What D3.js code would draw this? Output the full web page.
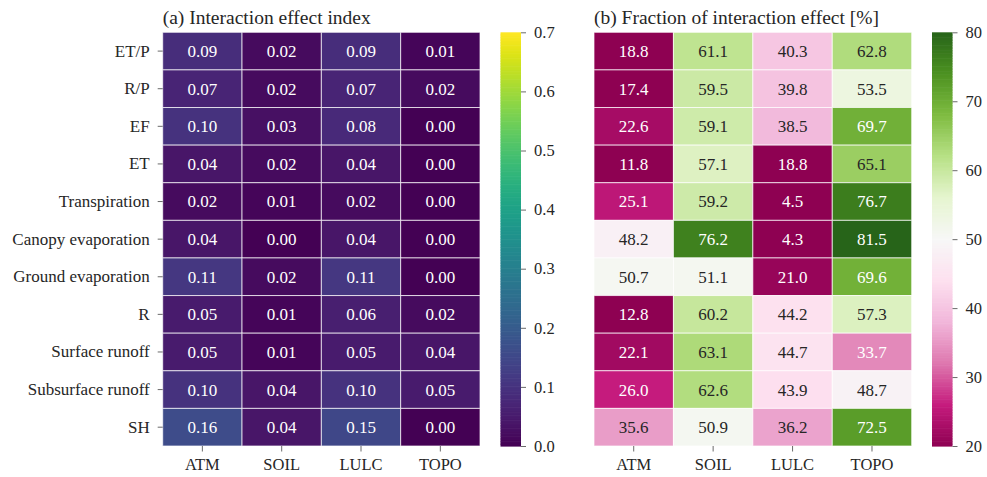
<!DOCTYPE html>
<html>
<head>
<meta charset="utf-8">
<script src="https://cdn.jsdelivr.net/npm/d3@7"></script>
<style>
  body { margin: 0; background: #fff; }
  svg { font-family: "Liberation Serif", "Times New Roman", serif; }
</style>
</head>
<body>
<svg id="chart" width="987" height="477"></svg>
<script>
// rows / columns
const rows = ["ET/P", "R/P", "EF", "ET", "Transpiration", "Canopy evaporation",
  "Ground evaporation", "R", "Surface runoff", "Subsurface runoff", "SH"];
const cols = ["ATM", "SOIL", "LULC", "TOPO"];

// (a) interaction effect index, one array per row
const indexValues = [
  [0.09, 0.02, 0.09, 0.01],
  [0.07, 0.02, 0.07, 0.02],
  [0.10, 0.03, 0.08, 0.00],
  [0.04, 0.02, 0.04, 0.00],
  [0.02, 0.01, 0.02, 0.00],
  [0.04, 0.00, 0.04, 0.00],
  [0.11, 0.02, 0.11, 0.00],
  [0.05, 0.01, 0.06, 0.02],
  [0.05, 0.01, 0.05, 0.04],
  [0.10, 0.04, 0.10, 0.05],
  [0.16, 0.04, 0.15, 0.00]
];

// (b) fraction of interaction effect [%]
const fractionValues = [
  [18.8, 61.1, 40.3, 62.8],
  [17.4, 59.5, 39.8, 53.5],
  [22.6, 59.1, 38.5, 69.7],
  [11.8, 57.1, 18.8, 65.1],
  [25.1, 59.2, 4.5, 76.7],
  [48.2, 76.2, 4.3, 81.5],
  [50.7, 51.1, 21.0, 69.6],
  [12.8, 60.2, 44.2, 57.3],
  [22.1, 63.1, 44.7, 33.7],
  [26.0, 62.6, 43.9, 48.7],
  [35.6, 50.9, 36.2, 72.5]
];

const indexTicks = [0.0, 0.1, 0.2, 0.3, 0.4, 0.5, 0.6, 0.7];
const fractionTicks = [20, 30, 40, 50, 60, 70, 80];

// matplotlib PiYG anchors (ColorBrewer 11)
const piyg = ["#8e0152", "#c51b7d", "#de77ae", "#f1b6da", "#fde0ef", "#f7f7f7",
  "#e6f5d0", "#b8e186", "#7fbc41", "#4d9221", "#276419"];

const svg = d3.select("#chart");
const textDark = "#262626";
const serif = "Liberation Serif, serif";

// seaborn picks annotation colour from cell luminance
function luminance(c) {
  const rgb = d3.rgb(c);
  const ch = [rgb.r, rgb.g, rgb.b].map(v => {
    v = v / 255;
    return v <= 0.03928 ? v / 12.92 : Math.pow((v + 0.055) / 1.055, 2.4);
  });
  return 0.2126 * ch[0] + 0.7152 * ch[1] + 0.0722 * ch[2];
}

function styleAxis(a, size) {
  a.select(".domain").remove();
  a.selectAll(".tick line").attr("stroke", "#444").attr("stroke-width", 0.8);
  a.selectAll(".tick text")
    .attr("fill", textDark)
    .style("font-size", size)
    .style("font-family", serif);
}

function drawPanel(opts) {
  const { left, width, top, height, data, color, fmt, title, ticks, cbLeft, cbWidth, domain, showRows } = opts;

  const x = d3.scaleBand().domain(cols).range([left, left + width]);
  const y = d3.scaleBand().domain(rows).range([top, top + height]);

  const g = svg.append("g");

  const cells = [];
  data.forEach((r, i) => r.forEach((v, j) => cells.push({ row: rows[i], col: cols[j], v })));

  g.selectAll("rect.cell")
    .data(cells)
    .enter()
    .append("rect")
    .attr("class", "cell")
    .attr("x", d => x(d.col))
    .attr("y", d => y(d.row))
    .attr("width", x.bandwidth())
    .attr("height", y.bandwidth())
    .attr("fill", d => color(d.v))
    .attr("stroke", "rgba(255,255,255,0.7)")
    .attr("stroke-width", 1);

  g.selectAll("text.annot")
    .data(cells)
    .enter()
    .append("text")
    .attr("x", d => x(d.col) + x.bandwidth() / 2)
    .attr("y", d => y(d.row) + y.bandwidth() / 2)
    .attr("dy", "0.35em")
    .attr("text-anchor", "middle")
    .style("font-size", "17px")
    .attr("fill", d => luminance(color(d.v)) > 0.408 ? textDark : "#fff")
    .text(d => fmt(d.v));

  // axes
  const xAxis = g.append("g")
    .attr("transform", `translate(0, ${top + height})`)
    .call(d3.axisBottom(x).tickSize(5.5));
  styleAxis(xAxis, "16.5px");
  xAxis.selectAll(".tick text").attr("y", 24).attr("dy", 0);

  if (showRows) {
    const yAxis = g.append("g")
      .attr("transform", `translate(${left}, 0)`)
      .call(d3.axisLeft(y).tickSize(5).tickPadding(8));
    styleAxis(yAxis, "17px");
  }

  svg.append("text")
    .attr("x", left)
    .attr("y", top - 8)
    .attr("fill", textDark)
    .style("font-size", "19.5px")
    .text(title);

  // colorbar
  const cb = d3.scaleLinear().domain(domain).range([top + height, top]);
  const steps = d3.range(0, 256);
  svg.append("g").selectAll("rect")
    .data(steps)
    .enter()
    .append("rect")
    .attr("x", cbLeft)
    .attr("width", cbWidth)
    .attr("y", s => cb(domain[0] + (s + 1) / 256 * (domain[1] - domain[0])))
    .attr("height", height / 256 + 0.6)
    .attr("fill", s => color(domain[0] + (s + 0.5) / 256 * (domain[1] - domain[0])));

  const cbAxis = svg.append("g")
    .attr("transform", `translate(${cbLeft + cbWidth}, 0)`)
    .call(d3.axisRight(cb).tickValues(ticks).tickFormat(opts.tickFmt).tickSize(5).tickPadding(8));
  styleAxis(cbAxis, "16.5px");
}

const plotTop = 32.3, plotHeight = 413.7;

const viridis = d3.scaleSequential(d3.interpolateViridis).domain([0, 0.7]).clamp(true);
drawPanel({
  left: 162.7, width: 317.3, top: plotTop, height: plotHeight,
  data: indexValues, color: viridis, fmt: d3.format(".2f"),
  title: "(a) Interaction effect index",
  ticks: indexTicks, tickFmt: d3.format(".1f"), domain: [0, 0.7],
  cbLeft: 500.5, cbWidth: 20.5, showRows: true
});

const piygScale = d3.scaleLinear()
  .domain(d3.range(piyg.length).map(i => 20 + i * 60 / (piyg.length - 1)))
  .range(piyg)
  .interpolate(d3.interpolateRgb)
  .clamp(true);
drawPanel({
  left: 594, width: 317.7, top: plotTop, height: plotHeight,
  data: fractionValues, color: piygScale, fmt: d3.format(".1f"),
  title: "(b) Fraction of interaction effect [%]",
  ticks: fractionTicks, tickFmt: d3.format("d"), domain: [20, 80],
  cbLeft: 932, cbWidth: 20.5, showRows: false
});
</script>
</body>
</html>
